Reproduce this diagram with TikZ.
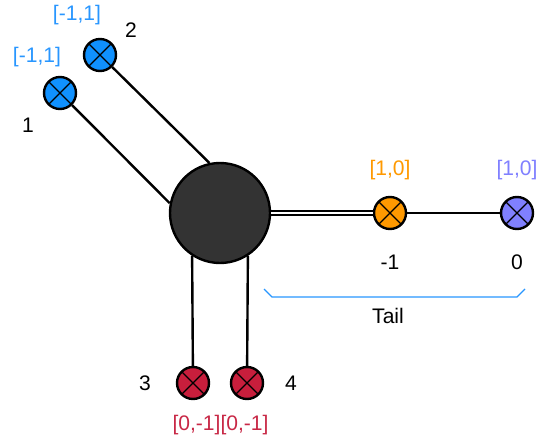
\documentclass[tikz,border=0pt]{standalone}
\usepackage{fontspec}
\setmainfont{Liberation Sans}
\usetikzlibrary{calc}
\definecolor{dark}{HTML}{333333}
\definecolor{xblue}{RGB}{16,145,255}
\definecolor{tblue}{RGB}{40,150,255}
\definecolor{xorange}{HTML}{FF9900}
\definecolor{xpurple}{HTML}{8080FF}
\definecolor{xred}{RGB}{200,30,60}
\definecolor{tred}{RGB}{200,40,70}
\begin{document}
\begin{tikzpicture}[x=0.75pt,y=-0.75pt,line width=1.8pt,
  every node/.style={font=\fontsize{15.8}{18}\selectfont},
  hub/.style={circle,draw=black,fill=dark,minimum size=75pt,inner sep=0pt,line width=1.8pt},
  xnode/.style={circle,draw=black,fill=#1,minimum size=24pt,inner sep=0pt,line width=1.8pt,
    path picture={\draw[line width=0.9pt]
      ([shift={(45:12pt)}]path picture bounding box.center) -- ([shift={(225:12pt)}]path picture bounding box.center)
      ([shift={(135:12pt)}]path picture bounding box.center) -- ([shift={(-45:12pt)}]path picture bounding box.center);}},
  lbl/.style={inner sep=0pt,anchor=center},
  link/.style={draw=black,line width=1.8pt},
  dlink/.style={draw=black,line width=1.6pt,double=white,double distance=1.6pt},
  brace/.style={draw=tblue,line width=1pt}
]
\useasboundingbox (0,0) rectangle (538,442);
% nodes
\node[hub] (c) at (220,213) {};
\node[xnode=xblue] (n1) at (60,93) {};
\node[xnode=xblue] (n2) at (100,55) {};
\node[xnode=xorange] (m1) at (390,213) {};
\node[xnode=xpurple] (m0) at (517,213) {};
\node[xnode=xred] (n3) at (193,383) {};
\node[xnode=xred] (n4) at (247,383) {};
% connectors
\draw[link] (n1) -- (c.169.4);
\draw[link] (n2) -- (c.102.5);
\draw[link] (c.237.3) -- (n3);
\draw[link] (c.-57.3) -- (n4);
\draw[dlink] (c) -- (m1);
\draw[link] (m1) -- (m0);
% brace
\coordinate (b1) at (264,289);
\coordinate (b2) at (272,297);
\coordinate (b3) at (517,297);
\coordinate (b4) at (525,289);
\draw[brace] (b1) -- (b2) -- (b3) -- (b4);
% labels
\node[lbl,text=tblue] (l2) at (77,15) {[-1,1]};
\node[lbl,text=tblue] (l1) at (37,57) {[-1,1]};
\node[lbl] (t2) at (131,30) {2};
\node[lbl] (t1) at (28,125) {1};
\node[lbl,text=xorange] (lm1) at (390,170) {[1,0]};
\node[lbl,text=xpurple] (lm0) at (517,170) {[1,0]};
\node[lbl] (tm1) at (390,262) {-1};
\node[lbl] (tm0) at (517,262) {0};
\node[lbl] (tail) at (388,316) {Tail};
\node[lbl] (t3) at (145,383) {3};
\node[lbl] (t4) at (291,383) {4};
\node[lbl,text=tred] (l3) at (196.5,425) {[0,-1]};
\node[lbl,text=tred] (l4) at (244.5,425) {[0,-1]};
\end{tikzpicture}
\end{document}
